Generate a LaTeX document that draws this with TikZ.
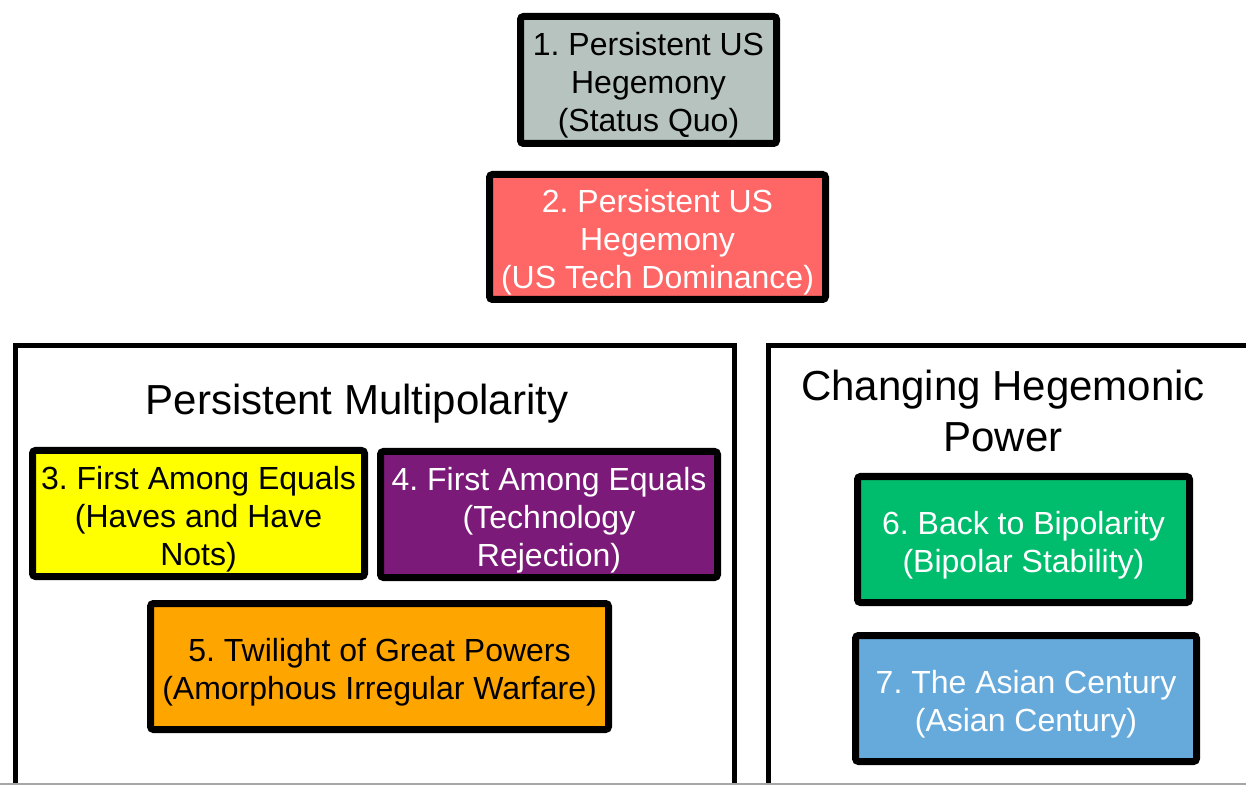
\documentclass[tikz,border=0pt]{standalone}
\usepackage{fontspec}
\setmainfont{Liberation Sans}
\frenchspacing
\definecolor{cGray}{HTML}{B7C3BE}
\definecolor{cRed}{HTML}{FF6666}
\definecolor{cYellow}{HTML}{FFFF00}
\definecolor{cPurple}{HTML}{7B1A78}
\definecolor{cOrange}{HTML}{FFA500}
\definecolor{cGreen}{HTML}{00BD6E}
\definecolor{cBlue}{HTML}{66AADB}
\tikzset{
  scen/.style={draw=black, line width=3.5pt, rounded corners=1.5pt, inner sep=0pt},
  txt/.style={align=center, inner sep=0pt, yshift=-2.75pt,
    font=\frenchspacing\fontsize{16}{19}\selectfont},
  grp/.style={draw=black, line width=2.5pt, fill=white},
  grptitle/.style={align=center, inner sep=0pt, font=\frenchspacing\fontsize{21}{25.5}\selectfont},
}
\begin{document}
\begin{tikzpicture}[x=0.5pt,y=-0.5pt]
\useasboundingbox (0,0) rectangle (1246,785);
\clip (0,0) rectangle (1246,785);
\fill[white] (0,0) rectangle (1246,785);
% group containers
\node[grp, minimum width=359.5pt, minimum height=250pt, anchor=north west] (gleft) at (12.5,343.5) {};
\node[grp, minimum width=300pt, minimum height=250pt, anchor=north west] (gright) at (765.5,343.5) {};
\draw[gray!70, line width=0.8pt] (0,784) -- (1246,784);
% titles
\node[grptitle, anchor=base] (tleft) at (357,415) {Persistent Multipolarity};
\node[grptitle] (tright) at (1003,411) {Changing Hegemonic\\Power};
% scenario boxes
\node[scen, fill=cGray, minimum width=128pt, minimum height=63.5pt,
  label={[txt, text=black]center:{1. Persistent US\\Hegemony\\(Status Quo)}}] (s1) at (648.5,80) {};
\node[scen, fill=cRed, minimum width=168pt, minimum height=62.5pt,
  label={[txt, text=white]center:{2. Persistent US\\Hegemony\\(US Tech Dominance)}}] (s2) at (657.5,237) {};
\node[scen, fill=cYellow, minimum width=166pt, minimum height=63pt,
  label={[txt, text=black]center:{3. First Among Equals\\(Haves and Have\\Nots)}}] (s3) at (198.5,513.5) {};
\node[scen, fill=cPurple, minimum width=168.5pt, minimum height=63pt,
  label={[txt, text=white]center:{4. First Among Equals\\(Technology\\Rejection)}}] (s4) at (549,514.5) {};
\node[scen, fill=cOrange, minimum width=229pt, minimum height=63pt,
  label={[txt, text=black]center:{5. Twilight of Great Powers\\(Amorphous Irregular Warfare)}}] (s5) at (379.5,666.5) {};
\node[scen, fill=cGreen, minimum width=166pt, minimum height=63pt,
  label={[txt, text=white]center:{6. Back to Bipolarity\\(Bipolar Stability)}}] (s6) at (1023.5,539.5) {};
\node[scen, fill=cBlue, minimum width=170.5pt, minimum height=63pt,
  label={[txt, text=white]center:{7. The Asian Century\\(Asian Century)}}] (s7) at (1026,698.5) {};
\end{tikzpicture}
\end{document}
